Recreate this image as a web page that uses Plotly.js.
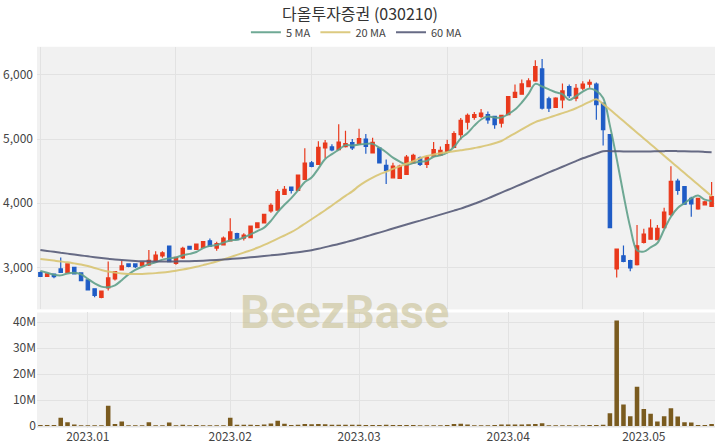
<!DOCTYPE html>
<html>
<head>
<meta charset="utf-8">
<script src="https://cdn.plot.ly/plotly-3.0.1.min.js"></script>
<style>html,body{margin:0;padding:0;background:#fff;}#chart{width:720px;height:448px;}</style>
</head>
<body>
<div id="chart"></div>
<script>
const dates = [
'2022-12-21','2022-12-22','2022-12-23','2022-12-26','2022-12-27','2022-12-28','2022-12-29',
'2023-01-02','2023-01-03','2023-01-04','2023-01-05','2023-01-06','2023-01-09','2023-01-10','2023-01-11','2023-01-12','2023-01-13',
'2023-01-16','2023-01-17','2023-01-18','2023-01-19','2023-01-20','2023-01-25','2023-01-26','2023-01-27','2023-01-30','2023-01-31',
'2023-02-01','2023-02-02','2023-02-03','2023-02-06','2023-02-07','2023-02-08','2023-02-09','2023-02-10','2023-02-13','2023-02-14',
'2023-02-15','2023-02-16','2023-02-17','2023-02-20','2023-02-21','2023-02-22','2023-02-23','2023-02-24','2023-02-27','2023-02-28',
'2023-03-02','2023-03-03','2023-03-06','2023-03-07','2023-03-08','2023-03-09','2023-03-10','2023-03-13','2023-03-14','2023-03-15',
'2023-03-16','2023-03-17','2023-03-20','2023-03-21','2023-03-22','2023-03-23','2023-03-24','2023-03-27','2023-03-28','2023-03-29',
'2023-03-30','2023-03-31','2023-04-03','2023-04-04','2023-04-05','2023-04-06','2023-04-07','2023-04-10','2023-04-11','2023-04-12',
'2023-04-13','2023-04-14','2023-04-17','2023-04-18','2023-04-19','2023-04-20','2023-04-21','2023-04-24','2023-04-25','2023-04-26',
'2023-04-27','2023-04-28','2023-05-02','2023-05-03','2023-05-04','2023-05-08','2023-05-09','2023-05-10','2023-05-11','2023-05-12',
'2023-05-15','2023-05-16','2023-05-17'
];
const opens = [2920,2860,2895,2975,2922,3000,2913,2804,2665,2530,2680,2820,2960,3053,3053,3026,3040,3100,3177,3332,
3062,3146,3326,3280,3310,3414,3300,3352,3414,3527,3456,3465,3620,3693,3880,3890,4138,4252,4200,4371,
4630,4604,4861,4877,4836,4883,4945,4923,5000,4784,4861,4590,4396,4386,4449,4629,4706,4604,4732,4748,
4800,4872,5069,5264,5338,5352,5380,5353,5250,5380,5648,5700,5818,5906,6094,5627,5493,5612,5818,5637,
5792,5855,5855,5560,5069,2975,3181,3104,3042,3388,3440,3430,3620,3820,4345,4260,4075,3910,3975,3950];
const highs = [2935,2905,2900,3155,3060,3010,2920,2810,2670,2640,3090,2940,3104,3060,3060,3085,3270,3250,3250,3340,
3160,3321,3335,3370,3410,3450,3400,3480,3766,3540,3530,3650,3700,3835,4000,4216,4267,4260,4445,4858,
4660,4965,4985,4920,5232,5130,5000,5160,5080,5020,4870,4680,4630,4600,4750,4770,4730,4740,4953,4885,
4990,5120,5330,5400,5420,5470,5430,5360,5380,5670,5850,5930,5950,6230,6250,5660,5650,5865,5850,5860,
5900,5930,5880,5570,5080,3290,3340,3120,3660,3600,3750,3660,3930,4578,4380,4270,4100,4080,4040,4330];
const lows = [2850,2850,2830,2915,2915,2890,2790,2640,2535,2520,2640,2794,2950,3000,2990,3015,3020,3090,3150,3085,
3040,3130,3280,3275,3305,3325,3260,3345,3405,3425,3420,3460,3610,3690,3850,3885,4130,4150,4195,4360,
4560,4600,4700,4810,4830,4870,4830,4915,4770,4780,4620,4300,4390,4380,4440,4610,4580,4550,4725,4740,
4795,4865,4990,5150,5300,5330,5240,5160,5180,5375,5640,5690,5810,5895,5460,5420,5490,5482,5640,5590,
5760,5800,5300,4900,3620,2840,3080,2940,3030,3370,3430,3430,3600,3800,4130,3975,3790,3900,3965,3940];
const closes = [2860,2900,2856,2922,3053,2898,2794,2649,2561,2628,2836,2933,3022,3016,3010,3078,3110,3190,3228,3088,
3155,3295,3285,3363,3403,3332,3372,3456,3553,3430,3502,3642,3693,3828,3968,4180,4216,4200,4438,4624,
4573,4872,4939,4830,4954,4930,4861,5007,4887,4950,4629,4510,4577,4577,4717,4748,4604,4717,4836,4826,
4914,5085,5290,5369,5380,5405,5300,5224,5369,5663,5730,5860,5906,6130,5483,5483,5637,5750,5678,5792,
5855,5885,5535,5146,3620,3285,3093,2990,3336,3518,3611,3610,3860,4340,4200,3984,3990,4076,4020,4105];
const volumes = [400000,400000,400000,3200000,1400000,600000,300000,300000,300000,300000,
7800000,800000,1700000,300000,300000,300000,1400000,300000,300000,1300000,
300000,500000,300000,400000,300000,300000,300000,300000,3200000,500000,
500000,500000,400000,600000,1000000,2000000,900000,400000,500000,800000,
700000,800000,700000,500000,500000,500000,500000,500000,400000,400000,
400000,500000,400000,400000,400000,400000,300000,300000,300000,300000,
400000,800000,900000,600000,300000,300000,300000,400000,600000,600000,
600000,600000,700000,800000,1100000,300000,300000,300000,300000,300000,
300000,400000,400000,500000,4900000,40600000,8300000,3800000,15100000,6500000,
4700000,1700000,3800000,6800000,3700000,1400000,1300000,400000,400000,800000];
const ma5 = [2945,2915,2885,2875,2905,2915,2890,2820,2750,2700,2690,2720,2800,2890,2960,3010,3050,3080,3120,3140,
3155,3190,3210,3240,3300,3335,3350,3385,3420,3430,3465,3515,3565,3620,3725,3860,3975,4080,4200,4330,
4400,4540,4690,4765,4835,4905,4900,4915,4925,4925,4865,4795,4710,4650,4600,4625,4645,4660,4725,4745,
4790,4875,5010,5095,5210,5305,5350,5335,5335,5390,5460,5570,5705,5860,5820,5775,5730,5700,5610,5670,
5740,5790,5750,5640,5210,4695,4135,3625,3265,3245,3310,3380,3590,3790,3925,4000,4075,4120,4055,4035];
const ma20 = [3130,3118,3105,3092,3078,3062,3045,3020,2990,2960,2935,2918,2905,2898,2896,2898,2903,2910,2920,2933,
2948,2965,2985,3008,3035,3062,3092,3125,3160,3195,3230,3265,3305,3350,3398,3448,3497,3548,3610,3680,
3750,3820,3890,3965,4040,4115,4185,4270,4340,4400,4450,4490,4535,4575,4615,4655,4700,4735,4760,4780,
4795,4810,4825,4840,4860,4880,4905,4935,4970,5030,5090,5150,5210,5265,5300,5335,5370,5405,5440,5480,
5530,5580,5620,5545,5460,5370,5280,5190,5100,5010,4920,4830,4740,4650,4560,4470,4380,4290,4200,4110];
const ma60 = [3270,3256,3242,3228,3214,3200,3186,3172,3158,3145,3133,3122,3113,3106,3100,3096,3094,3092,3092,3092,
3093,3095,3097,3100,3104,3109,3115,3122,3130,3138,3147,3156,3166,3176,3187,3198,3210,3222,3235,3250,
3268,3290,3315,3340,3365,3392,3420,3450,3480,3511,3542,3573,3605,3636,3667,3698,3729,3760,3791,3822,
3853,3884,3915,3953,3991,4030,4075,4120,4165,4210,4255,4300,4345,4390,4435,4480,4524,4568,4612,4656,
4700,4737,4774,4810,4812,4810,4808,4806,4805,4806,4808,4810,4812,4813,4812,4810,4808,4805,4800,4795];
const monthTicks = ['2023-01-02','2023-02-02','2023-03-02','2023-04-03','2023-05-02'];
const monthLabels = ['2023.01','2023.02','2023.03','2023.04','2023.05'];
const chartTitle = '다올투자증권 (030210)';

const UP = '#e9391c', DOWN = '#1f5cc6';
const FONT = '"Noto Sans CJK KR", "Noto Sans", sans-serif';

const traces = [
  {type:'candlestick', x:dates, open:opens, high:highs, low:lows, close:closes,
   xaxis:'x', yaxis:'y', showlegend:false, hoverinfo:'skip',
   increasing:{line:{color:UP, width:1.2}, fillcolor:UP},
   decreasing:{line:{color:DOWN, width:1.2}, fillcolor:DOWN}},
  {type:'scatter', mode:'lines', name:'5 MA', x:dates, y:ma5, xaxis:'x', yaxis:'y',
   line:{color:'#5fa08a', width:2, shape:'spline'}, opacity:0.9},
  {type:'scatter', mode:'lines', name:'20 MA', x:dates, y:ma20, xaxis:'x', yaxis:'y',
   line:{color:'#d8c472', width:2, shape:'spline'}, opacity:0.9},
  {type:'scatter', mode:'lines', name:'60 MA', x:dates, y:ma60, xaxis:'x', yaxis:'y',
   line:{color:'#565b78', width:2, shape:'spline'}, opacity:0.9},
  {type:'bar', x:dates, y:volumes, xaxis:'x2', yaxis:'y2', showlegend:false,
   marker:{color:'#7a5b1f'}, hoverinfo:'skip'}
];

const gridTicks = [dates[0], dates[20], dates[40], dates[60], dates[80]];

const layout = {
  width:720, height:448,
  margin:{l:37, r:5, t:45, b:20},
  paper_bgcolor:'#ffffff', plot_bgcolor:'#f1f1f1',
  font:{family:FONT, color:'#444', size:12},
  title:{text:chartTitle, x:0.5, xref:'container', xanchor:'center', y:0.968, yref:'container', yanchor:'middle',
         font:{family:FONT, size:16, color:'#333'}},
  showlegend:true,
  legend:{orientation:'h', x:0.495, xref:'container', xanchor:'center', y:0.928, yref:'container', yanchor:'middle',
          font:{family:FONT, size:11, color:'#444'}, bgcolor:'rgba(0,0,0,0)', itemwidth:30},
  bargap:0.33,
  xaxis:{type:'category', domain:[0,1], anchor:'y', range:[-0.5, 99.5], rangeslider:{visible:false},
         tickmode:'array', tickvals:gridTicks, showticklabels:false, ticks:'',
         showgrid:true, gridcolor:'#e2e2e2', zeroline:false, showline:false},
  yaxis:{domain:[0.311,1], anchor:'x', range:[2344, 6439], tickmode:'array', tickvals:[3000,4000,5000,6000],
         tickformat:',d', showgrid:true, gridcolor:'#e2e2e2', zeroline:false, ticks:'', ticklabelstandoff:3,
         tickfont:{size:12, color:'#444'}},
  xaxis2:{type:'category', domain:[0,1], anchor:'y2', range:[-0.5, 99.5], matches:'x',
          tickmode:'array', tickvals:monthTicks, ticktext:monthLabels, ticks:'',
          showgrid:true, gridcolor:'#e2e2e2', zeroline:false, tickfont:{size:12, color:'#444'}},
  yaxis2:{domain:[0,0.303], anchor:'x2', range:[-770000, 43700000], tickmode:'array',
          tickvals:[0,10000000,20000000,30000000,40000000], tickformat:'~s',
          showgrid:true, gridcolor:'#e2e2e2', zeroline:false, ticks:'', tickfont:{size:12, color:'#444'}},
  annotations:[{text:'<b>BeezBase</b>', xref:'paper', yref:'paper', x:0.454, y:0.305, xanchor:'center', yanchor:'middle',
                showarrow:false, font:{family:'Roboto, "Liberation Sans", sans-serif', size:47, color:'rgba(200,191,145,0.6)'}}]
};

Plotly.newPlot('chart', traces, layout, {staticPlot:true, displayModeBar:false});
</script>
</body>
</html>
